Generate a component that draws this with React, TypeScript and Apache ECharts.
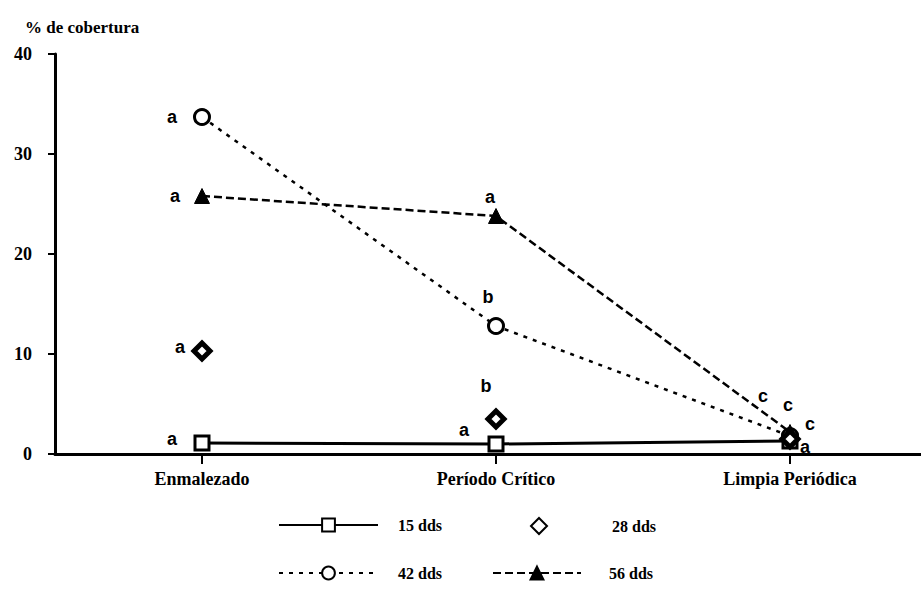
import React, { useEffect, useRef } from "react";
import * as echarts from "echarts";

const categories = ["Enmalezado", "Período Crítico", "Limpia Periódica"];
const yTicks = [0, 10, 20, 30, 40];

const dds15 = [1.1, 1.0, 1.3];
const dds28 = [10.3, 3.5, 1.5];
const dds42 = [33.7, 12.8, 1.8];
const dds56 = [25.8, 23.8, 2.2];

const letters15 = ["a", "a", "a"];
const letters28 = ["a", "b", "c"];
const letters42 = ["a", "b", "c"];
const letters56 = ["a", "a", "c"];

// label offsets (style only)
const off15 = [[-30, -4], [-32, -14], [15, 6]];
const off28 = [[-22, -4], [-10, -33], [20, -15]];
const off42 = [[-30, 0], [-8, -29], [-2, -31]];
const off56 = [[-27, 0], [-6, -19], [-27, -36]];

const FONT = "Liberation Serif";
const LBL = "Liberation Sans";
const catIdx = categories.map((_, i) => i);

function mk(values: number[], letters: string[], offs: number[][]) {
  return values.map((v, i) => ({
    value: [i, v],
    label: {
      show: true,
      position: "inside",
      offset: offs[i],
      formatter: letters[i],
      color: "#000",
      fontFamily: LBL,
      fontWeight: "bold",
      fontSize: 18,
    },
  }));
}

export default function App() {
  const ref = useRef<HTMLDivElement>(null);
  useEffect(() => {
    document.body.style.margin = "0";
    const chart = echarts.init(ref.current!, undefined, { renderer: "svg" });
    const legendText = (pad: number) => ({
      color: "#000",
      fontFamily: FONT,
      fontWeight: "bold",
      fontSize: 16,
      padding: [0, 0, 0, pad],
    });
    chart.setOption({
      animation: false,
      backgroundColor: "#fff",
      title: {
        text: "% de cobertura",
        left: 20,
        top: 14,
        textStyle: { fontFamily: FONT, fontSize: 17, fontWeight: "bold", color: "#000" },
      },
      grid: { left: 55, top: 54, right: 0, height: 400, containLabel: false },
      xAxis: {
        type: "value",
        min: -0.5,
        max: 2.4456,
        axisLine: { show: true, onZero: false, lineStyle: { color: "#000", width: 3 } },
        axisTick: { show: true, customValues: catIdx, length: 10, lineStyle: { color: "#000", width: 2 } },
        axisLabel: {
          show: true,
          customValues: catIdx,
          color: "#000",
          fontFamily: FONT,
          fontSize: 18,
          fontWeight: "bold",
          margin: 16,
          formatter: (v: number) => categories[Math.round(v)] ?? "",
        },
        splitLine: { show: false },
      },
      yAxis: {
        type: "value",
        min: 0,
        max: 40,
        interval: 10,
        axisLine: { show: true, onZero: false, lineStyle: { color: "#000", width: 3 } },
        axisTick: { show: true, length: 7, lineStyle: { color: "#000", width: 2 } },
        axisLabel: {
          color: "#000",
          fontFamily: FONT,
          fontSize: 18,
          fontWeight: "bold",
          margin: 23,
          formatter: (v: number) => (yTicks.includes(v) ? String(v) : ""),
        },
        splitLine: { show: false },
      },
      legend: [
        { data: ["15 dds"], left: 273, top: 512, itemWidth: 99, itemHeight: 16, textStyle: legendText(15) },
        { data: ["28 dds"], left: 525, top: 512, itemWidth: 16, itemHeight: 16, textStyle: legendText(60) },
        { data: ["42 dds"], left: 273, top: 560, itemWidth: 99, itemHeight: 16, textStyle: legendText(15) },
        { data: ["56 dds"], left: 487, top: 560, itemWidth: 88, itemHeight: 16, textStyle: legendText(23) },
      ],
      series: [
        {
          name: "15 dds",
          type: "line",
          data: mk(dds15, letters15, off15),
          symbol: "rect",
          symbolSize: 14,
          lineStyle: { color: "#000", width: 3, type: "solid" },
          itemStyle: { color: "#fff", borderColor: "#000", borderWidth: 3 },
          z: 3,
        },
        {
          name: "28 dds",
          type: "scatter",
          data: mk(dds28, letters28, off28),
          symbol: "diamond",
          symbolSize: 16,
          itemStyle: { color: "#fff", borderColor: "#000", borderWidth: 5, opacity: 1 },
          z: 4,
        },
        {
          name: "42 dds",
          type: "line",
          data: mk(dds42, letters42, off42),
          symbol: "circle",
          symbolSize: 15,
          lineStyle: { color: "#000", width: 2.5, type: [4, 6] },
          itemStyle: { color: "#fff", borderColor: "#000", borderWidth: 3 },
          z: 3,
        },
        {
          name: "56 dds",
          type: "line",
          data: mk(dds56, letters56, off56),
          symbol: "triangle",
          symbolSize: 15,
          lineStyle: { color: "#000", width: 2.5, type: [8, 4] },
          itemStyle: { color: "#000", borderColor: "#000", borderWidth: 1 },
          z: 3,
        },
      ],
    });
    return () => chart.dispose();
  }, []);
  return <div ref={ref} style={{ width: 921, height: 596 }} />;
}
